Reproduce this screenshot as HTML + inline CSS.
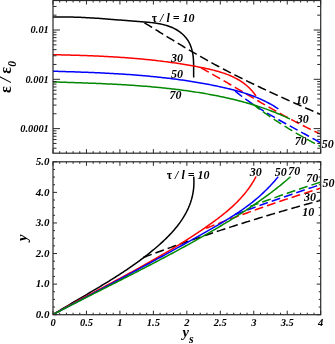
<!DOCTYPE html>
<html><head><meta charset="utf-8"><title>chart</title>
<style>html,body{margin:0;padding:0;background:#fff;}body{width:335px;height:344px;position:relative;overflow:hidden;font-family:"Liberation Serif",serif;}</style>
</head><body>
<svg width="335" height="344" viewBox="0 0 335 344" style="position:absolute;left:0;top:0">
<clipPath id="c1"><rect x="53.0" y="0.5" width="267.7" height="152.7"/></clipPath>
<clipPath id="c2"><rect x="53.0" y="161.8" width="267.7" height="152.89999999999998"/></clipPath>
<g clip-path="url(#c1)">
<path d="M53.00,17.10 L54.57,17.06 L56.13,17.02 L57.69,17.00 L59.24,16.98 L60.78,16.96 L62.32,16.96 L63.86,16.96 L65.39,16.96 L66.92,16.98 L68.44,17.00 L69.96,17.02 L71.48,17.05 L72.99,17.09 L74.50,17.13 L76.01,17.17 L77.51,17.22 L79.01,17.28 L80.51,17.34 L82.01,17.41 L83.50,17.48 L84.99,17.55 L86.48,17.63 L87.97,17.71 L89.46,17.79 L90.95,17.88 L92.43,17.97 L93.92,18.07 L95.40,18.17 L96.89,18.27 L98.37,18.37 L99.86,18.48 L101.34,18.59 L102.83,18.70 L104.31,18.81 L105.80,18.92 L107.29,19.04 L108.78,19.16 L110.27,19.27 L111.76,19.39 L113.26,19.51 L114.75,19.63 L116.25,19.76 L117.76,19.88 L119.26,20.00 L120.77,20.12 L122.28,20.25 L123.80,20.37 L125.31,20.49 L126.84,20.61 L128.36,20.73 L129.89,20.85 L131.43,20.97 L132.96,21.09 L134.51,21.20 L136.06,21.32 L137.61,21.43 L139.17,21.54 L140.73,21.65 L142.30,21.77 L143.86,21.89 L145.43,22.02 L146.99,22.15 L148.55,22.30 L150.11,22.45 L151.66,22.63 L153.21,22.81 L154.75,23.02 L156.28,23.24 L157.80,23.49 L159.31,23.76 L160.81,24.05 L162.29,24.38 L163.76,24.73 L165.21,25.11 L166.65,25.53 L168.06,25.98 L169.46,26.46 L170.84,26.99 L172.20,27.55 L173.53,28.16 L174.83,28.81 L176.12,29.51 L177.37,30.26 L178.60,31.05 L179.80,31.90 L180.96,32.80 L182.09,33.74 L183.17,34.74 L184.22,35.78 L185.21,36.88 L186.16,38.01 L187.05,39.20 L187.88,40.42 L188.65,41.70 L189.36,43.01 L190.01,44.36 L190.59,45.75 L191.11,47.17 L191.58,48.62 L191.99,50.10 L192.35,51.60 L192.65,53.12 L192.90,54.65 L193.11,56.20 L193.27,57.76 L193.40,59.32 L193.50,60.89 L193.56,62.46 L193.61,64.03 L193.63,65.59 L193.65,67.14 L193.65,68.68 L193.64,70.21 L193.64,71.71 L193.64,73.20 L193.64,74.66 L193.66,76.10 L193.70,77.50" fill="none" stroke="#000" stroke-width="1.5"/>
<path d="M144.40,22.80 L145.70,23.59 L146.99,24.37 L148.29,25.16 L149.58,25.95 L150.88,26.74 L152.17,27.53 L153.46,28.33 L154.76,29.12 L156.05,29.91 L157.35,30.70 L158.64,31.50 L159.93,32.29 L161.23,33.08 L162.52,33.88 L163.82,34.67 L165.11,35.46 L166.41,36.26 L167.70,37.05 L169.00,37.84 L170.29,38.63 L171.59,39.42 L172.88,40.21 L174.18,41.00 L175.48,41.79 L176.78,42.58 L178.08,43.36 L179.38,44.15 L180.68,44.93 L181.98,45.71 L183.28,46.49 L184.58,47.27 L185.89,48.05 L187.19,48.82 L188.50,49.60 L189.81,50.37 L191.12,51.14 L192.43,51.90 L193.74,52.67 L195.05,53.43 L196.36,54.19 L197.68,54.95 L198.99,55.70 L200.31,56.45 L201.63,57.20 L202.95,57.95 L204.27,58.69 L205.60,59.43 L206.92,60.17 L208.25,60.90 L209.58,61.64 L210.91,62.36 L212.24,63.09 L213.57,63.81 L214.90,64.54 L216.24,65.25 L217.57,65.97 L218.91,66.68 L220.25,67.40 L221.59,68.10 L222.93,68.81 L224.27,69.51 L225.62,70.22 L226.96,70.91 L228.31,71.61 L229.66,72.31 L231.01,73.00 L232.36,73.69 L233.71,74.37 L235.06,75.06 L236.41,75.74 L237.77,76.42 L239.12,77.10 L240.48,77.78 L241.84,78.45 L243.19,79.13 L244.55,79.80 L245.92,80.47 L247.28,81.13 L248.64,81.80 L250.00,82.46 L251.37,83.12 L252.73,83.78 L254.10,84.44 L255.47,85.09 L256.84,85.75 L258.21,86.40 L259.58,87.05 L260.95,87.70 L262.32,88.35 L263.69,88.99 L265.07,89.64 L266.44,90.28 L267.82,90.92 L269.19,91.56 L270.57,92.20 L271.95,92.83 L273.32,93.47 L274.70,94.10 L276.08,94.73 L277.46,95.36 L278.84,95.99 L280.22,96.62 L281.61,97.25 L282.99,97.87 L284.37,98.50 L285.76,99.12 L287.14,99.74 L288.53,100.36 L289.91,100.98 L291.30,101.60 L292.68,102.22 L294.07,102.84 L295.46,103.45 L296.85,104.07 L298.24,104.68 L299.62,105.29 L301.01,105.91 L302.40,106.52 L303.79,107.13 L305.18,107.74 L306.57,108.35 L307.97,108.96 L309.36,109.56 L310.75,110.17 L312.14,110.78 L313.53,111.38 L314.93,111.99 L316.32,112.59 L317.71,113.19 L319.11,113.80 L320.50,114.40" fill="none" stroke="#000" stroke-width="1.5" stroke-dasharray="9 4"/>
<path d="M53.00,54.70 L54.52,54.73 L56.04,54.76 L57.56,54.80 L59.08,54.83 L60.60,54.86 L62.12,54.90 L63.64,54.94 L65.16,54.97 L66.68,55.01 L68.19,55.05 L69.71,55.09 L71.23,55.13 L72.75,55.18 L74.27,55.22 L75.79,55.26 L77.30,55.31 L78.82,55.36 L80.34,55.41 L81.86,55.46 L83.37,55.51 L84.89,55.56 L86.41,55.62 L87.92,55.67 L89.44,55.73 L90.96,55.79 L92.47,55.85 L93.99,55.92 L95.51,55.98 L97.02,56.05 L98.54,56.12 L100.05,56.19 L101.57,56.26 L103.09,56.33 L104.60,56.41 L106.12,56.49 L107.63,56.57 L109.15,56.65 L110.66,56.74 L112.18,56.82 L113.69,56.91 L115.20,57.00 L116.72,57.10 L118.23,57.20 L119.75,57.29 L121.26,57.40 L122.77,57.50 L124.29,57.61 L125.80,57.72 L127.31,57.83 L128.83,57.94 L130.34,58.06 L131.85,58.18 L133.37,58.31 L134.88,58.43 L136.39,58.56 L137.90,58.69 L139.42,58.83 L140.93,58.97 L142.44,59.11 L143.95,59.25 L145.47,59.40 L146.98,59.55 L148.49,59.70 L150.00,59.86 L151.51,60.02 L153.02,60.19 L154.53,60.35 L156.05,60.53 L157.56,60.70 L159.07,60.88 L160.58,61.06 L162.09,61.25 L163.60,61.44 L165.11,61.63 L166.62,61.83 L168.13,62.03 L169.64,62.23 L171.15,62.44 L172.66,62.65 L174.17,62.87 L175.68,63.09 L177.19,63.31 L178.70,63.54 L180.21,63.77 L181.72,64.01 L183.23,64.25 L184.74,64.50 L186.25,64.75 L187.76,65.00 L189.26,65.26 L190.77,65.52 L192.28,65.79 L193.79,66.06 L195.30,66.34 L196.81,66.62 L198.32,66.91 L199.82,67.20 L201.33,67.50 L202.84,67.80 L204.35,68.10 L205.85,68.42 L207.35,68.74 L208.85,69.07 L210.35,69.42 L211.84,69.77 L213.32,70.13 L214.80,70.51 L216.28,70.90 L217.74,71.30 L219.20,71.72 L220.65,72.16 L222.09,72.61 L223.52,73.09 L224.94,73.58 L226.35,74.09 L227.75,74.62 L229.13,75.17 L230.50,75.75 L231.86,76.35 L233.20,76.97 L234.53,77.62 L235.84,78.30 L237.14,79.00 L238.42,79.73 L239.68,80.49 L240.92,81.28 L242.15,82.10 L243.35,82.96 L244.53,83.84 L245.69,84.76 L246.83,85.71 L247.95,86.70 L249.05,87.73 L250.12,88.79 L251.16,89.89 L252.18,91.03 L253.18,92.21 L254.15,93.43 L255.09,94.69 L256.00,96.00" fill="none" stroke="#f00" stroke-width="1.5"/>
<path d="M201.00,67.80 L202.34,68.54 L203.67,69.29 L205.00,70.03 L206.34,70.78 L207.67,71.53 L209.00,72.28 L210.33,73.04 L211.65,73.79 L212.98,74.55 L214.31,75.31 L215.63,76.07 L216.96,76.83 L218.28,77.59 L219.61,78.36 L220.93,79.12 L222.25,79.89 L223.57,80.66 L224.89,81.43 L226.21,82.20 L227.54,82.97 L228.86,83.74 L230.17,84.51 L231.49,85.28 L232.81,86.06 L234.13,86.83 L235.45,87.60 L236.77,88.38 L238.09,89.15 L239.40,89.93 L240.72,90.70 L242.04,91.48 L243.36,92.25 L244.68,93.02 L246.00,93.80 L247.31,94.57 L248.63,95.35 L249.95,96.12 L251.27,96.89 L252.59,97.66 L253.91,98.43 L255.23,99.21 L256.55,99.97 L257.87,100.74 L259.20,101.51 L260.52,102.28 L261.84,103.04 L263.17,103.81 L264.49,104.57 L265.82,105.33 L267.14,106.09 L268.47,106.85 L269.80,107.61 L271.12,108.36 L272.45,109.12 L273.78,109.87 L275.12,110.62 L276.45,111.37 L277.78,112.11 L279.12,112.85 L280.45,113.60 L281.79,114.34 L283.13,115.07 L284.47,115.81 L285.81,116.54 L287.15,117.27 L288.50,117.99 L289.84,118.72 L291.19,119.44 L292.54,120.16 L293.89,120.87 L295.24,121.59 L296.59,122.29 L297.95,123.00 L299.31,123.70 L300.67,124.40 L302.03,125.10 L303.39,125.79 L304.75,126.48 L306.12,127.16 L307.49,127.85 L308.86,128.52 L310.23,129.20 L311.61,129.87 L312.98,130.53 L314.36,131.20 L315.74,131.85 L317.13,132.51 L318.51,133.16 L319.90,133.80" fill="none" stroke="#f00" stroke-width="1.5" stroke-dasharray="9 4"/>
<path d="M53.00,71.25 L54.50,71.29 L55.99,71.33 L57.49,71.37 L58.99,71.42 L60.49,71.46 L61.99,71.50 L63.49,71.55 L64.99,71.59 L66.49,71.64 L68.00,71.68 L69.50,71.73 L71.00,71.78 L72.51,71.82 L74.01,71.87 L75.52,71.92 L77.02,71.97 L78.53,72.03 L80.03,72.08 L81.54,72.13 L83.04,72.19 L84.55,72.24 L86.06,72.30 L87.57,72.36 L89.07,72.42 L90.58,72.48 L92.09,72.54 L93.60,72.60 L95.11,72.67 L96.62,72.73 L98.13,72.80 L99.64,72.87 L101.15,72.94 L102.66,73.01 L104.17,73.08 L105.68,73.16 L107.19,73.24 L108.70,73.31 L110.21,73.39 L111.72,73.48 L113.23,73.56 L114.74,73.65 L116.25,73.73 L117.76,73.82 L119.28,73.92 L120.79,74.01 L122.30,74.10 L123.81,74.20 L125.32,74.30 L126.83,74.41 L128.34,74.51 L129.85,74.62 L131.36,74.73 L132.87,74.84 L134.38,74.95 L135.89,75.07 L137.40,75.19 L138.91,75.31 L140.42,75.43 L141.93,75.56 L143.44,75.69 L144.95,75.82 L146.45,75.96 L147.96,76.09 L149.47,76.23 L150.98,76.38 L152.49,76.52 L153.99,76.67 L155.50,76.82 L157.00,76.98 L158.51,77.14 L160.02,77.30 L161.52,77.46 L163.02,77.63 L164.53,77.80 L166.03,77.97 L167.53,78.15 L169.04,78.33 L170.54,78.51 L172.04,78.70 L173.54,78.89 L175.04,79.08 L176.54,79.28 L178.04,79.48 L179.54,79.69 L181.04,79.89 L182.53,80.11 L184.03,80.32 L185.53,80.54 L187.02,80.76 L188.51,80.99 L190.01,81.22 L191.50,81.46 L192.99,81.69 L194.49,81.94 L195.98,82.18 L197.47,82.43 L198.96,82.69 L200.44,82.95 L201.93,83.21 L203.42,83.48 L204.90,83.75 L206.39,84.03 L207.87,84.31 L209.35,84.59 L210.84,84.88 L212.32,85.17 L213.80,85.47 L215.28,85.78 L216.76,86.08 L218.23,86.39 L219.71,86.71 L221.18,87.03 L222.66,87.36 L224.13,87.69 L225.60,88.03 L227.07,88.37 L228.54,88.72 L230.00,89.07 L231.47,89.44 L232.93,89.81 L234.39,90.19 L235.84,90.57 L237.29,90.97 L238.74,91.38 L240.19,91.79 L241.63,92.22 L243.07,92.65 L244.50,93.10 L245.93,93.56 L247.35,94.03 L248.77,94.51 L250.19,95.00 L251.60,95.51 L253.00,96.03 L254.40,96.56 L255.80,97.11 L257.18,97.68 L258.56,98.25 L259.94,98.85 L261.31,99.46 L262.67,100.08 L264.02,100.72 L265.37,101.38 L266.71,102.06 L268.04,102.75 L269.37,103.47 L270.68,104.20 L271.99,104.95 L273.29,105.72 L274.58,106.51 L275.86,107.32 L277.14,108.15 L278.40,109.00" fill="none" stroke="#00f" stroke-width="1.5"/>
<path d="M235.00,91.00 L236.20,91.97 L237.41,92.93 L238.62,93.88 L239.84,94.83 L241.07,95.76 L242.30,96.68 L243.54,97.60 L244.78,98.50 L246.03,99.40 L247.29,100.29 L248.55,101.17 L249.81,102.05 L251.08,102.91 L252.36,103.77 L253.64,104.62 L254.92,105.47 L256.21,106.31 L257.50,107.14 L258.79,107.96 L260.09,108.78 L261.40,109.60 L262.71,110.40 L264.02,111.20 L265.33,112.00 L266.65,112.79 L267.97,113.58 L269.29,114.36 L270.62,115.14 L271.95,115.92 L273.28,116.69 L274.61,117.45 L275.95,118.21 L277.29,118.97 L278.63,119.73 L279.97,120.48 L281.32,121.23 L282.66,121.98 L284.01,122.73 L285.36,123.47 L286.71,124.21 L288.06,124.95 L289.41,125.69 L290.76,126.43 L292.11,127.16 L293.46,127.90 L294.82,128.63 L296.17,129.37 L297.52,130.10 L298.88,130.83 L300.23,131.57 L301.58,132.30 L302.93,133.04 L304.29,133.77 L305.64,134.51 L306.99,135.25 L308.33,135.99 L309.68,136.73 L311.03,137.48 L312.37,138.22 L313.72,138.97 L315.06,139.72 L316.40,140.47 L317.73,141.23 L319.07,141.99 L320.40,142.75" fill="none" stroke="#00f" stroke-width="1.5" stroke-dasharray="9 4"/>
<path d="M53.00,81.90 L54.50,81.95 L55.99,82.00 L57.49,82.05 L58.99,82.09 L60.49,82.14 L61.98,82.19 L63.48,82.24 L64.98,82.29 L66.49,82.34 L67.99,82.39 L69.49,82.44 L70.99,82.49 L72.50,82.54 L74.00,82.59 L75.51,82.64 L77.01,82.69 L78.52,82.74 L80.02,82.79 L81.53,82.85 L83.04,82.90 L84.55,82.96 L86.05,83.01 L87.56,83.07 L89.07,83.13 L90.58,83.18 L92.09,83.24 L93.60,83.30 L95.11,83.36 L96.62,83.43 L98.13,83.49 L99.64,83.55 L101.15,83.62 L102.67,83.69 L104.18,83.75 L105.69,83.82 L107.20,83.89 L108.72,83.97 L110.23,84.04 L111.74,84.12 L113.25,84.19 L114.77,84.27 L116.28,84.35 L117.79,84.43 L119.31,84.52 L120.82,84.60 L122.33,84.69 L123.85,84.78 L125.36,84.87 L126.87,84.96 L128.39,85.06 L129.90,85.15 L131.41,85.25 L132.92,85.35 L134.44,85.46 L135.95,85.56 L137.46,85.67 L138.97,85.78 L140.49,85.89 L142.00,86.01 L143.51,86.13 L145.02,86.25 L146.53,86.37 L148.04,86.49 L149.55,86.62 L151.06,86.75 L152.57,86.89 L154.08,87.02 L155.59,87.16 L157.10,87.30 L158.61,87.45 L160.12,87.59 L161.62,87.74 L163.13,87.90 L164.64,88.05 L166.14,88.21 L167.65,88.38 L169.15,88.54 L170.66,88.71 L172.16,88.88 L173.66,89.06 L175.17,89.24 L176.67,89.42 L178.17,89.61 L179.67,89.80 L181.17,89.99 L182.67,90.19 L184.17,90.39 L185.67,90.59 L187.16,90.80 L188.66,91.01 L190.16,91.23 L191.65,91.45 L193.14,91.67 L194.64,91.90 L196.13,92.13 L197.62,92.37 L199.11,92.60 L200.60,92.85 L202.09,93.10 L203.58,93.35 L205.07,93.60 L206.55,93.87 L208.04,94.13 L209.52,94.40 L211.00,94.67 L212.49,94.95 L213.97,95.24 L215.45,95.52 L216.92,95.81 L218.40,96.11 L219.88,96.41 L221.35,96.72 L222.83,97.03 L224.30,97.35 L225.77,97.67 L227.24,97.99 L228.71,98.33 L230.18,98.66 L231.65,99.00 L233.11,99.35 L234.57,99.71 L236.04,100.07 L237.50,100.43 L238.95,100.80 L240.41,101.18 L241.87,101.56 L243.32,101.95 L244.77,102.35 L246.22,102.75 L247.67,103.16 L249.11,103.57 L250.56,104.00 L252.00,104.43 L253.44,104.86 L254.88,105.30 L256.31,105.76 L257.75,106.21 L259.18,106.68 L260.61,107.15 L262.03,107.63 L263.46,108.12 L264.88,108.62 L266.30,109.12 L267.71,109.63 L269.13,110.15 L270.54,110.68 L271.95,111.22 L273.35,111.76 L274.76,112.32 L276.16,112.88 L277.55,113.45 L278.95,114.03 L280.34,114.62 L281.73,115.22 L283.12,115.82 L284.50,116.44 L285.88,117.06 L287.26,117.70 L288.63,118.34 L290.00,119.00" fill="none" stroke="#080" stroke-width="1.5"/>
<path d="M252.50,103.90 L253.73,104.84 L254.95,105.77 L256.19,106.70 L257.42,107.62 L258.66,108.54 L259.91,109.45 L261.16,110.36 L262.41,111.26 L263.66,112.16 L264.92,113.05 L266.18,113.94 L267.45,114.82 L268.72,115.70 L269.99,116.57 L271.26,117.44 L272.54,118.30 L273.82,119.16 L275.11,120.01 L276.40,120.86 L277.69,121.70 L278.98,122.54 L280.28,123.38 L281.58,124.21 L282.88,125.03 L284.19,125.85 L285.50,126.67 L286.81,127.48 L288.12,128.29 L289.44,129.09 L290.76,129.89 L292.08,130.68 L293.41,131.47 L294.74,132.26 L296.07,133.04 L297.40,133.82 L298.73,134.59 L300.07,135.36 L301.41,136.12 L302.75,136.88 L304.10,137.64 L305.45,138.39 L306.79,139.14 L308.15,139.88 L309.50,140.62 L310.86,141.36 L312.21,142.09 L313.57,142.82 L314.93,143.54 L316.30,144.26 L317.66,144.98 L319.03,145.69 L320.40,146.40" fill="none" stroke="#080" stroke-width="1.5" stroke-dasharray="9 4"/>
</g>
<g clip-path="url(#c2)">
<path d="M53.00,314.50 L54.30,313.70 L55.60,312.90 L56.91,312.11 L58.21,311.32 L59.52,310.53 L60.82,309.74 L62.13,308.96 L63.44,308.18 L64.75,307.40 L66.05,306.62 L67.36,305.84 L68.67,305.06 L69.98,304.29 L71.30,303.52 L72.61,302.74 L73.92,301.97 L75.23,301.20 L76.54,300.43 L77.85,299.66 L79.16,298.90 L80.47,298.13 L81.79,297.36 L83.10,296.59 L84.41,295.82 L85.72,295.05 L87.03,294.28 L88.33,293.51 L89.64,292.74 L90.95,291.97 L92.26,291.20 L93.56,290.43 L94.87,289.65 L96.17,288.88 L97.47,288.10 L98.77,287.32 L100.07,286.54 L101.37,285.76 L102.67,284.98 L103.97,284.19 L105.26,283.40 L106.55,282.61 L107.84,281.82 L109.13,281.02 L110.42,280.22 L111.71,279.42 L112.99,278.62 L114.27,277.81 L115.55,277.00 L116.83,276.18 L118.11,275.37 L119.38,274.54 L120.65,273.72 L121.92,272.89 L123.19,272.05 L124.45,271.22 L125.71,270.37 L126.97,269.53 L128.23,268.67 L129.48,267.82 L130.73,266.96 L131.97,266.09 L133.22,265.22 L134.46,264.34 L135.70,263.46 L136.93,262.57 L138.16,261.68 L139.39,260.78 L140.61,259.87 L141.83,258.96 L143.05,258.04 L144.26,257.12 L145.47,256.18 L146.68,255.25 L147.88,254.30 L149.08,253.35 L150.27,252.39 L151.46,251.43 L152.64,250.45 L153.83,249.47 L155.00,248.48 L156.17,247.49 L157.34,246.49 L158.50,245.47 L159.65,244.45 L160.80,243.43 L161.94,242.39 L163.06,241.34 L164.18,240.29 L165.29,239.23 L166.39,238.15 L167.48,237.07 L168.55,235.98 L169.61,234.88 L170.66,233.77 L171.69,232.65 L172.71,231.52 L173.71,230.39 L174.70,229.24 L175.67,228.08 L176.62,226.91 L177.56,225.73 L178.47,224.53 L179.37,223.33 L180.25,222.12 L181.10,220.89 L181.94,219.66 L182.75,218.41 L183.54,217.15 L184.30,215.88 L185.04,214.60 L185.76,213.30 L186.45,212.00 L187.12,210.68 L187.76,209.34 L188.37,208.00 L188.95,206.64 L189.51,205.27 L190.03,203.89 L190.53,202.49 L190.99,201.08 L191.42,199.66 L191.82,198.22 L192.19,196.77 L192.53,195.31 L192.83,193.83 L193.09,192.34 L193.32,190.83 L193.52,189.31 L193.68,187.77 L193.80,186.22 L193.88,184.66 L193.92,183.08 L193.93,181.48 L193.89,179.87 L193.82,178.24 L193.70,176.60" fill="none" stroke="#000" stroke-width="1.5"/>
<path d="M143.25,257.50 L144.67,256.97 L146.08,256.44 L147.50,255.91 L148.92,255.38 L150.34,254.86 L151.76,254.33 L153.17,253.81 L154.59,253.28 L156.01,252.76 L157.43,252.24 L158.85,251.72 L160.28,251.20 L161.70,250.68 L163.12,250.17 L164.54,249.65 L165.96,249.14 L167.39,248.62 L168.81,248.11 L170.23,247.60 L171.66,247.09 L173.08,246.58 L174.51,246.07 L175.93,245.56 L177.36,245.06 L178.78,244.55 L180.21,244.05 L181.64,243.55 L183.06,243.04 L184.49,242.54 L185.92,242.04 L187.35,241.55 L188.78,241.05 L190.21,240.55 L191.63,240.06 L193.06,239.56 L194.49,239.07 L195.93,238.58 L197.36,238.09 L198.79,237.60 L200.22,237.11 L201.65,236.62 L203.08,236.14 L204.52,235.65 L205.95,235.17 L207.38,234.68 L208.82,234.20 L210.25,233.72 L211.69,233.24 L213.12,232.76 L214.56,232.28 L215.99,231.81 L217.43,231.33 L218.87,230.86 L220.30,230.38 L221.74,229.91 L223.18,229.44 L224.62,228.97 L226.05,228.50 L227.49,228.04 L228.93,227.57 L230.37,227.10 L231.81,226.64 L233.25,226.18 L234.69,225.72 L236.13,225.25 L237.57,224.80 L239.02,224.34 L240.46,223.88 L241.90,223.42 L243.34,222.97 L244.79,222.51 L246.23,222.06 L247.67,221.61 L249.12,221.16 L250.56,220.71 L252.01,220.26 L253.45,219.81 L254.90,219.37 L256.34,218.92 L257.79,218.48 L259.23,218.04 L260.68,217.60 L262.13,217.16 L263.58,216.72 L265.02,216.28 L266.47,215.84 L267.92,215.41 L269.37,214.97 L270.82,214.54 L272.27,214.11 L273.72,213.67 L275.17,213.24 L276.62,212.82 L278.07,212.39 L279.52,211.96 L280.98,211.54 L282.43,211.11 L283.88,210.69 L285.33,210.27 L286.79,209.85 L288.24,209.43 L289.69,209.01 L291.15,208.59 L292.60,208.18 L294.06,207.76 L295.51,207.35 L296.97,206.94 L298.42,206.53 L299.88,206.12 L301.34,205.71 L302.79,205.30 L304.25,204.89 L305.71,204.49 L307.16,204.08 L308.62,203.68 L310.08,203.28 L311.54,202.88 L313.00,202.48 L314.46,202.08 L315.92,201.68 L317.38,201.29 L318.84,200.89 L320.30,200.50" fill="none" stroke="#000" stroke-width="1.5" stroke-dasharray="9 4"/>
<path d="M53.00,314.50 L54.31,313.76 L55.63,313.03 L56.94,312.29 L58.26,311.56 L59.58,310.82 L60.89,310.09 L62.21,309.36 L63.54,308.64 L64.86,307.91 L66.18,307.18 L67.50,306.46 L68.83,305.73 L70.16,305.01 L71.48,304.29 L72.81,303.57 L74.14,302.85 L75.47,302.13 L76.80,301.41 L78.13,300.69 L79.46,299.97 L80.79,299.26 L82.12,298.54 L83.46,297.82 L84.79,297.11 L86.13,296.39 L87.46,295.68 L88.80,294.97 L90.13,294.25 L91.47,293.54 L92.80,292.83 L94.14,292.11 L95.48,291.40 L96.81,290.69 L98.15,289.98 L99.49,289.26 L100.83,288.55 L102.17,287.84 L103.50,287.13 L104.84,286.41 L106.18,285.70 L107.52,284.99 L108.86,284.27 L110.20,283.56 L111.53,282.84 L112.87,282.13 L114.21,281.41 L115.55,280.70 L116.88,279.98 L118.22,279.26 L119.56,278.55 L120.90,277.83 L122.23,277.11 L123.57,276.39 L124.90,275.67 L126.24,274.95 L127.57,274.22 L128.91,273.50 L130.24,272.77 L131.57,272.05 L132.90,271.32 L134.24,270.59 L135.57,269.86 L136.90,269.13 L138.23,268.40 L139.55,267.67 L140.88,266.93 L142.21,266.20 L143.53,265.46 L144.86,264.72 L146.18,263.98 L147.51,263.24 L148.83,262.50 L150.15,261.75 L151.47,261.00 L152.79,260.25 L154.10,259.50 L155.42,258.75 L156.74,257.99 L158.05,257.24 L159.36,256.48 L160.67,255.72 L161.98,254.96 L163.29,254.19 L164.60,253.42 L165.91,252.65 L167.21,251.88 L168.51,251.11 L169.81,250.33 L171.11,249.55 L172.41,248.77 L173.71,247.99 L175.00,247.20 L176.30,246.41 L177.59,245.62 L178.88,244.83 L180.16,244.03 L181.45,243.23 L182.73,242.43 L184.02,241.62 L185.30,240.81 L186.57,240.00 L187.85,239.19 L189.12,238.37 L190.40,237.55 L191.67,236.72 L192.93,235.90 L194.20,235.07 L195.46,234.23 L196.72,233.40 L197.98,232.56 L199.24,231.71 L200.49,230.86 L201.75,230.01 L203.00,229.16 L204.24,228.30 L205.49,227.44 L206.73,226.58 L207.97,225.71 L209.21,224.83 L210.44,223.96 L211.67,223.08 L212.90,222.19 L214.12,221.30 L215.34,220.40 L216.55,219.50 L217.76,218.60 L218.97,217.68 L220.16,216.76 L221.35,215.83 L222.54,214.90 L223.72,213.96 L224.89,213.01 L226.05,212.05 L227.20,211.08 L228.35,210.10 L229.48,209.12 L230.61,208.13 L231.73,207.12 L232.83,206.11 L233.93,205.08 L235.01,204.05 L236.09,203.00 L237.15,201.94 L238.20,200.87 L239.24,199.79 L240.27,198.69 L241.28,197.59 L242.28,196.47 L243.26,195.33 L244.23,194.18 L245.19,193.02 L246.13,191.85 L247.05,190.66 L247.96,189.45 L248.86,188.23 L249.73,186.99 L250.59,185.74 L251.43,184.47 L252.26,183.19 L253.07,181.88 L253.85,180.57 L254.62,179.23 L255.37,177.87 L256.10,176.50" fill="none" stroke="#f00" stroke-width="1.5"/>
<path d="M206.00,228.30 L207.43,227.74 L208.86,227.19 L210.29,226.63 L211.72,226.08 L213.15,225.53 L214.58,224.98 L216.01,224.43 L217.44,223.88 L218.88,223.34 L220.31,222.79 L221.74,222.25 L223.18,221.70 L224.61,221.16 L226.04,220.62 L227.48,220.08 L228.92,219.55 L230.35,219.01 L231.79,218.48 L233.23,217.94 L234.66,217.41 L236.10,216.88 L237.54,216.35 L238.98,215.82 L240.42,215.29 L241.86,214.77 L243.30,214.24 L244.74,213.72 L246.18,213.19 L247.62,212.67 L249.07,212.15 L250.51,211.64 L251.95,211.12 L253.40,210.60 L254.84,210.09 L256.29,209.57 L257.73,209.06 L259.18,208.55 L260.62,208.04 L262.07,207.53 L263.52,207.03 L264.96,206.52 L266.41,206.02 L267.86,205.51 L269.31,205.01 L270.76,204.51 L272.21,204.01 L273.66,203.52 L275.11,203.02 L276.56,202.53 L278.01,202.03 L279.46,201.54 L280.92,201.05 L282.37,200.56 L283.82,200.07 L285.28,199.58 L286.73,199.10 L288.19,198.61 L289.64,198.13 L291.10,197.65 L292.55,197.17 L294.01,196.69 L295.47,196.21 L296.92,195.74 L298.38,195.26 L299.84,194.79 L301.30,194.32 L302.76,193.84 L304.22,193.38 L305.68,192.91 L307.14,192.44 L308.60,191.97 L310.06,191.51 L311.52,191.05 L312.98,190.59 L314.45,190.13 L315.91,189.67 L317.37,189.21 L318.84,188.75 L320.30,188.30" fill="none" stroke="#f00" stroke-width="1.5" stroke-dasharray="9 4"/>
<path d="M53.00,314.50 L54.34,313.80 L55.69,313.10 L57.03,312.40 L58.38,311.70 L59.72,310.99 L61.07,310.29 L62.41,309.59 L63.75,308.89 L65.10,308.18 L66.44,307.48 L67.79,306.78 L69.13,306.07 L70.47,305.37 L71.81,304.67 L73.16,303.96 L74.50,303.26 L75.84,302.55 L77.19,301.85 L78.53,301.14 L79.87,300.44 L81.21,299.73 L82.55,299.03 L83.90,298.32 L85.24,297.62 L86.58,296.91 L87.92,296.20 L89.26,295.50 L90.60,294.79 L91.94,294.08 L93.28,293.37 L94.63,292.66 L95.97,291.95 L97.31,291.25 L98.65,290.54 L99.99,289.83 L101.33,289.12 L102.66,288.41 L104.00,287.70 L105.34,286.98 L106.68,286.27 L108.02,285.56 L109.36,284.85 L110.70,284.14 L112.04,283.42 L113.37,282.71 L114.71,282.00 L116.05,281.28 L117.39,280.57 L118.72,279.85 L120.06,279.14 L121.40,278.42 L122.73,277.71 L124.07,276.99 L125.41,276.27 L126.74,275.56 L128.08,274.84 L129.41,274.12 L130.75,273.40 L132.08,272.68 L133.42,271.96 L134.75,271.24 L136.09,270.52 L137.42,269.80 L138.75,269.08 L140.09,268.36 L141.42,267.64 L142.75,266.92 L144.09,266.19 L145.42,265.47 L146.75,264.74 L148.08,264.02 L149.41,263.30 L150.75,262.57 L152.08,261.84 L153.41,261.12 L154.74,260.39 L156.07,259.66 L157.40,258.94 L158.73,258.21 L160.06,257.48 L161.39,256.75 L162.72,256.02 L164.05,255.29 L165.37,254.56 L166.70,253.82 L168.03,253.09 L169.36,252.36 L170.69,251.63 L172.01,250.89 L173.34,250.16 L174.67,249.42 L175.99,248.69 L177.32,247.95 L178.64,247.21 L179.97,246.48 L181.29,245.74 L182.62,245.00 L183.94,244.26 L185.27,243.52 L186.59,242.78 L187.91,242.04 L189.24,241.30 L190.56,240.55 L191.88,239.81 L193.20,239.07 L194.52,238.32 L195.85,237.58 L197.17,236.83 L198.49,236.09 L199.81,235.34 L201.13,234.59 L202.45,233.84 L203.77,233.09 L205.09,232.34 L206.40,231.59 L207.72,230.84 L209.04,230.09 L210.36,229.34 L211.68,228.59 L212.99,227.83 L214.31,227.08 L215.62,226.32 L216.94,225.56 L218.25,224.80 L219.56,224.03 L220.86,223.27 L222.17,222.50 L223.47,221.72 L224.77,220.94 L226.07,220.16 L227.37,219.38 L228.66,218.59 L229.94,217.79 L231.23,216.99 L232.51,216.18 L233.78,215.37 L235.05,214.55 L236.32,213.73 L237.58,212.90 L238.84,212.06 L240.09,211.21 L241.34,210.36 L242.58,209.50 L243.81,208.63 L245.04,207.75 L246.26,206.87 L247.47,205.97 L248.68,205.06 L249.88,204.15 L251.07,203.23 L252.26,202.29 L253.44,201.35 L254.61,200.39 L255.77,199.42 L256.92,198.45 L258.07,197.46 L259.21,196.47 L260.34,195.46 L261.46,194.44 L262.58,193.41 L263.68,192.38 L264.78,191.33 L265.86,190.27 L266.94,189.20 L268.01,188.11 L269.07,187.02 L270.13,185.92 L271.17,184.80 L272.20,183.68 L273.23,182.54 L274.24,181.40 L275.24,180.24 L276.24,179.07 L277.22,177.89 L278.20,176.70" fill="none" stroke="#00f" stroke-width="1.5"/>
<path d="M235.00,214.50 L236.44,213.97 L237.87,213.44 L239.31,212.91 L240.75,212.38 L242.19,211.85 L243.62,211.33 L245.06,210.80 L246.50,210.28 L247.94,209.75 L249.38,209.23 L250.82,208.71 L252.26,208.19 L253.70,207.67 L255.14,207.15 L256.58,206.63 L258.02,206.11 L259.46,205.59 L260.91,205.08 L262.35,204.56 L263.79,204.05 L265.23,203.53 L266.68,203.02 L268.12,202.51 L269.57,202.00 L271.01,201.49 L272.45,200.98 L273.90,200.47 L275.34,199.97 L276.79,199.46 L278.24,198.96 L279.68,198.45 L281.13,197.95 L282.58,197.44 L284.02,196.94 L285.47,196.44 L286.92,195.94 L288.37,195.44 L289.81,194.95 L291.26,194.45 L292.71,193.95 L294.16,193.46 L295.61,192.96 L297.06,192.47 L298.51,191.98 L299.96,191.49 L301.41,191.00 L302.86,190.51 L304.31,190.02 L305.77,189.53 L307.22,189.04 L308.67,188.56 L310.12,188.07 L311.58,187.59 L313.03,187.10 L314.48,186.62 L315.94,186.14 L317.39,185.66 L318.85,185.18 L320.30,184.70" fill="none" stroke="#00f" stroke-width="1.5" stroke-dasharray="9 4"/>
<path d="M53.00,314.50 L54.34,313.81 L55.68,313.11 L57.02,312.42 L58.36,311.73 L59.70,311.03 L61.04,310.34 L62.38,309.65 L63.72,308.96 L65.07,308.27 L66.41,307.58 L67.75,306.89 L69.10,306.20 L70.44,305.52 L71.79,304.83 L73.13,304.14 L74.48,303.46 L75.82,302.77 L77.17,302.09 L78.52,301.40 L79.86,300.72 L81.21,300.03 L82.56,299.35 L83.91,298.66 L85.26,297.98 L86.60,297.30 L87.95,296.61 L89.30,295.93 L90.65,295.25 L92.00,294.56 L93.35,293.88 L94.70,293.20 L96.05,292.52 L97.40,291.83 L98.75,291.15 L100.10,290.47 L101.45,289.79 L102.80,289.10 L104.15,288.42 L105.50,287.74 L106.85,287.06 L108.20,286.37 L109.55,285.69 L110.90,285.01 L112.25,284.32 L113.60,283.64 L114.95,282.96 L116.30,282.27 L117.65,281.59 L119.00,280.90 L120.35,280.22 L121.70,279.53 L123.05,278.85 L124.40,278.16 L125.75,277.47 L127.10,276.79 L128.45,276.10 L129.80,275.41 L131.15,274.72 L132.49,274.03 L133.84,273.34 L135.19,272.65 L136.54,271.96 L137.88,271.27 L139.23,270.58 L140.58,269.89 L141.92,269.19 L143.27,268.50 L144.61,267.80 L145.96,267.11 L147.30,266.41 L148.65,265.72 L149.99,265.02 L151.33,264.32 L152.67,263.62 L154.02,262.92 L155.36,262.22 L156.70,261.51 L158.04,260.81 L159.38,260.11 L160.72,259.40 L162.06,258.69 L163.40,257.99 L164.73,257.28 L166.07,256.57 L167.41,255.86 L168.74,255.15 L170.08,254.43 L171.41,253.72 L172.75,253.00 L174.08,252.29 L175.41,251.57 L176.74,250.85 L178.07,250.13 L179.40,249.41 L180.73,248.69 L182.06,247.96 L183.39,247.24 L184.72,246.51 L186.04,245.78 L187.37,245.05 L188.69,244.32 L190.01,243.59 L191.34,242.85 L192.66,242.12 L193.98,241.38 L195.30,240.64 L196.62,239.90 L197.93,239.16 L199.25,238.41 L200.57,237.67 L201.88,236.92 L203.20,236.17 L204.51,235.42 L205.82,234.67 L207.13,233.91 L208.44,233.16 L209.75,232.40 L211.06,231.64 L212.36,230.88 L213.67,230.12 L214.97,229.35 L216.27,228.58 L217.57,227.81 L218.87,227.04 L220.17,226.27 L221.47,225.50 L222.77,224.72 L224.06,223.94 L225.36,223.16 L226.65,222.37 L227.94,221.59 L229.23,220.80 L230.52,220.01 L231.80,219.21 L233.09,218.42 L234.37,217.62 L235.65,216.82 L236.93,216.01 L238.20,215.20 L239.48,214.39 L240.75,213.58 L242.02,212.76 L243.29,211.94 L244.56,211.12 L245.82,210.29 L247.08,209.47 L248.34,208.63 L249.60,207.80 L250.85,206.96 L252.10,206.11 L253.35,205.26 L254.60,204.41 L255.84,203.56 L257.09,202.70 L258.32,201.84 L259.56,200.97 L260.79,200.10 L262.02,199.22 L263.25,198.34 L264.47,197.46 L265.69,196.57 L266.91,195.68 L268.12,194.78 L269.33,193.88 L270.54,192.98 L271.74,192.07 L272.95,191.15 L274.14,190.23 L275.34,189.30 L276.53,188.37 L277.71,187.44 L278.89,186.50 L280.07,185.55 L281.25,184.60 L282.42,183.65 L283.59,182.69 L284.75,181.72 L285.91,180.75 L287.06,179.77 L288.21,178.79 L289.36,177.80 L290.50,176.80" fill="none" stroke="#080" stroke-width="1.5"/>
<path d="M250.00,206.50 L251.46,205.97 L252.91,205.44 L254.37,204.91 L255.83,204.38 L257.28,203.86 L258.74,203.33 L260.20,202.81 L261.66,202.28 L263.12,201.76 L264.58,201.24 L266.04,200.72 L267.50,200.20 L268.96,199.68 L270.42,199.16 L271.88,198.65 L273.34,198.13 L274.80,197.62 L276.26,197.10 L277.73,196.59 L279.19,196.08 L280.65,195.57 L282.12,195.06 L283.58,194.55 L285.05,194.05 L286.51,193.54 L287.98,193.04 L289.44,192.53 L290.91,192.03 L292.37,191.53 L293.84,191.03 L295.31,190.53 L296.77,190.03 L298.24,189.53 L299.71,189.04 L301.18,188.54 L302.65,188.05 L304.12,187.55 L305.59,187.06 L307.06,186.57 L308.53,186.08 L310.00,185.59 L311.47,185.10 L312.94,184.62 L314.41,184.13 L315.88,183.65 L317.35,183.16 L318.83,182.68 L320.30,182.20" fill="none" stroke="#080" stroke-width="1.5" stroke-dasharray="9 4"/>
</g>
<rect x="53.0" y="0.5" width="267.7" height="152.7" fill="none" stroke="#2a2a2a" stroke-width="1.2"/>
<rect x="53.0" y="161.8" width="267.7" height="152.89999999999998" fill="none" stroke="#2a2a2a" stroke-width="1.2"/>
<path d="M53.00,153.2v-4M53.00,0.5v4M59.69,153.2v-2M59.69,0.5v2M66.39,153.2v-2M66.39,0.5v2M73.08,153.2v-2M73.08,0.5v2M79.77,153.2v-2M79.77,0.5v2M86.46,153.2v-4M86.46,0.5v4M93.16,153.2v-2M93.16,0.5v2M99.85,153.2v-2M99.85,0.5v2M106.54,153.2v-2M106.54,0.5v2M113.23,153.2v-2M113.23,0.5v2M119.92,153.2v-4M119.92,0.5v4M126.62,153.2v-2M126.62,0.5v2M133.31,153.2v-2M133.31,0.5v2M140.00,153.2v-2M140.00,0.5v2M146.69,153.2v-2M146.69,0.5v2M153.39,153.2v-4M153.39,0.5v4M160.08,153.2v-2M160.08,0.5v2M166.77,153.2v-2M166.77,0.5v2M173.47,153.2v-2M173.47,0.5v2M180.16,153.2v-2M180.16,0.5v2M186.85,153.2v-4M186.85,0.5v4M193.54,153.2v-2M193.54,0.5v2M200.24,153.2v-2M200.24,0.5v2M206.93,153.2v-2M206.93,0.5v2M213.62,153.2v-2M213.62,0.5v2M220.31,153.2v-4M220.31,0.5v4M227.00,153.2v-2M227.00,0.5v2M233.70,153.2v-2M233.70,0.5v2M240.39,153.2v-2M240.39,0.5v2M247.08,153.2v-2M247.08,0.5v2M253.77,153.2v-4M253.77,0.5v4M260.47,153.2v-2M260.47,0.5v2M267.16,153.2v-2M267.16,0.5v2M273.85,153.2v-2M273.85,0.5v2M280.54,153.2v-2M280.54,0.5v2M287.24,153.2v-4M287.24,0.5v4M293.93,153.2v-2M293.93,0.5v2M300.62,153.2v-2M300.62,0.5v2M307.31,153.2v-2M307.31,0.5v2M314.01,153.2v-2M314.01,0.5v2M320.70,153.2v-4M320.70,0.5v4" stroke="#2a2a2a" stroke-width="1" fill="none"/>
<path d="M53.00,314.7v-4M53.00,161.8v4M59.69,314.7v-2M59.69,161.8v2M66.39,314.7v-2M66.39,161.8v2M73.08,314.7v-2M73.08,161.8v2M79.77,314.7v-2M79.77,161.8v2M86.46,314.7v-4M86.46,161.8v4M93.16,314.7v-2M93.16,161.8v2M99.85,314.7v-2M99.85,161.8v2M106.54,314.7v-2M106.54,161.8v2M113.23,314.7v-2M113.23,161.8v2M119.92,314.7v-4M119.92,161.8v4M126.62,314.7v-2M126.62,161.8v2M133.31,314.7v-2M133.31,161.8v2M140.00,314.7v-2M140.00,161.8v2M146.69,314.7v-2M146.69,161.8v2M153.39,314.7v-4M153.39,161.8v4M160.08,314.7v-2M160.08,161.8v2M166.77,314.7v-2M166.77,161.8v2M173.47,314.7v-2M173.47,161.8v2M180.16,314.7v-2M180.16,161.8v2M186.85,314.7v-4M186.85,161.8v4M193.54,314.7v-2M193.54,161.8v2M200.24,314.7v-2M200.24,161.8v2M206.93,314.7v-2M206.93,161.8v2M213.62,314.7v-2M213.62,161.8v2M220.31,314.7v-4M220.31,161.8v4M227.00,314.7v-2M227.00,161.8v2M233.70,314.7v-2M233.70,161.8v2M240.39,314.7v-2M240.39,161.8v2M247.08,314.7v-2M247.08,161.8v2M253.77,314.7v-4M253.77,161.8v4M260.47,314.7v-2M260.47,161.8v2M267.16,314.7v-2M267.16,161.8v2M273.85,314.7v-2M273.85,161.8v2M280.54,314.7v-2M280.54,161.8v2M287.24,314.7v-4M287.24,161.8v4M293.93,314.7v-2M293.93,161.8v2M300.62,314.7v-2M300.62,161.8v2M307.31,314.7v-2M307.31,161.8v2M314.01,314.7v-2M314.01,161.8v2M320.70,314.7v-4M320.70,161.8v4" stroke="#2a2a2a" stroke-width="1" fill="none"/>
<path d="M53.0,148.22h3.5M320.7,148.22h-3.5M53.0,143.44h3.5M320.7,143.44h-3.5M53.0,139.54h3.5M320.7,139.54h-3.5M53.0,136.24h3.5M320.7,136.24h-3.5M53.0,133.38h3.5M320.7,133.38h-3.5M53.0,130.86h3.5M320.7,130.86h-3.5M53.0,128.60h7M320.7,128.60h-7M53.0,113.76h3.5M320.7,113.76h-3.5M53.0,105.08h3.5M320.7,105.08h-3.5M53.0,98.92h3.5M320.7,98.92h-3.5M53.0,94.14h3.5M320.7,94.14h-3.5M53.0,90.24h3.5M320.7,90.24h-3.5M53.0,86.94h3.5M320.7,86.94h-3.5M53.0,84.08h3.5M320.7,84.08h-3.5M53.0,81.56h3.5M320.7,81.56h-3.5M53.0,79.30h7M320.7,79.30h-7M53.0,64.46h3.5M320.7,64.46h-3.5M53.0,55.78h3.5M320.7,55.78h-3.5M53.0,49.62h3.5M320.7,49.62h-3.5M53.0,44.84h3.5M320.7,44.84h-3.5M53.0,40.94h3.5M320.7,40.94h-3.5M53.0,37.64h3.5M320.7,37.64h-3.5M53.0,34.78h3.5M320.7,34.78h-3.5M53.0,32.26h3.5M320.7,32.26h-3.5M53.0,30.00h7M320.7,30.00h-7M53.0,15.16h3.5M320.7,15.16h-3.5M53.0,6.48h3.5M320.7,6.48h-3.5" stroke="#2a2a2a" stroke-width="1" fill="none"/>
<path d="M53.0,314.70h4M320.7,314.70h-4M53.0,307.06h2M320.7,307.06h-2M53.0,299.41h2M320.7,299.41h-2M53.0,291.76h2M320.7,291.76h-2M53.0,284.12h4M320.7,284.12h-4M53.0,276.48h2M320.7,276.48h-2M53.0,268.83h2M320.7,268.83h-2M53.0,261.19h2M320.7,261.19h-2M53.0,253.54h4M320.7,253.54h-4M53.0,245.89h2M320.7,245.89h-2M53.0,238.25h2M320.7,238.25h-2M53.0,230.61h2M320.7,230.61h-2M53.0,222.96h4M320.7,222.96h-4M53.0,215.31h2M320.7,215.31h-2M53.0,207.67h2M320.7,207.67h-2M53.0,200.03h2M320.7,200.03h-2M53.0,192.38h4M320.7,192.38h-4M53.0,184.74h2M320.7,184.74h-2M53.0,177.09h2M320.7,177.09h-2M53.0,169.45h2M320.7,169.45h-2M53.0,161.80h4M320.7,161.80h-4" stroke="#2a2a2a" stroke-width="1" fill="none"/>
<g font-family="Liberation Serif, serif" font-weight="bold" font-style="italic" fill="#000" style="filter:grayscale(1)">
<text x="48.8" y="33.3" font-size="10.4" text-anchor="end">0.01</text>
<text x="48.8" y="82.6" font-size="10.4" text-anchor="end">0.001</text>
<text x="48.8" y="131.9" font-size="10.4" text-anchor="end">0.0001</text>
<text x="49.5" y="318.0" font-size="11" text-anchor="end">0.0</text>
<text x="49.5" y="287.4" font-size="11" text-anchor="end">1.0</text>
<text x="49.5" y="256.8" font-size="11" text-anchor="end">2.0</text>
<text x="49.5" y="226.3" font-size="11" text-anchor="end">3.0</text>
<text x="49.5" y="195.7" font-size="11" text-anchor="end">4.0</text>
<text x="49.5" y="165.1" font-size="11" text-anchor="end">5.0</text>
<text x="53.0" y="325.5" font-size="10.5" text-anchor="middle">0</text>
<text x="86.5" y="325.5" font-size="10.5" text-anchor="middle">0.5</text>
<text x="119.9" y="325.5" font-size="10.5" text-anchor="middle">1</text>
<text x="153.4" y="325.5" font-size="10.5" text-anchor="middle">1.5</text>
<text x="186.8" y="325.5" font-size="10.5" text-anchor="middle">2</text>
<text x="220.3" y="325.5" font-size="10.5" text-anchor="middle">2.5</text>
<text x="253.8" y="325.5" font-size="10.5" text-anchor="middle">3</text>
<text x="287.2" y="325.5" font-size="10.5" text-anchor="middle">3.5</text>
<text x="320.7" y="325.5" font-size="10.5" text-anchor="middle">4</text>
<text x="151.8" y="21.5" font-size="12"><tspan font-style="normal" font-size="11.5">τ</tspan> / l = 10</text>
<text x="171" y="61.5" font-size="12">30</text>
<text x="171" y="77.7" font-size="12">50</text>
<text x="169.4" y="98.5" font-size="12">70</text>
<text x="295.9" y="104.3" font-size="12">10</text>
<text x="296.7" y="123.3" font-size="12">30</text>
<text x="294.7" y="145" font-size="12">70</text>
<text x="321.7" y="148" font-size="12">50</text>
<text x="166.8" y="178.5" font-size="12"><tspan font-style="normal" font-size="11.5">τ</tspan> / l = 10</text>
<text x="249.7" y="175.7" font-size="12">30</text>
<text x="274.7" y="175.5" font-size="12">50</text>
<text x="288.3" y="175.3" font-size="12">70</text>
<text x="306.3" y="181.5" font-size="12">70</text>
<text x="322.4" y="186.9" font-size="12">50</text>
<text x="303.9" y="201" font-size="12">30</text>
<text x="302.3" y="215.6" font-size="12">10</text>
<text transform="translate(11,77) rotate(-90)" font-size="16" text-anchor="middle"><tspan font-style="normal">ε</tspan> / <tspan font-style="normal">ε</tspan><tspan font-size="11.5" dy="5">0</tspan></text>
<text transform="translate(27,237.7) rotate(-90)" font-size="14.5" text-anchor="middle">y</text>
<text x="182.6" y="336.5" font-size="14.5">y<tspan font-size="12" dy="6.3">s</tspan></text>
</g>
</svg>
</body></html>
